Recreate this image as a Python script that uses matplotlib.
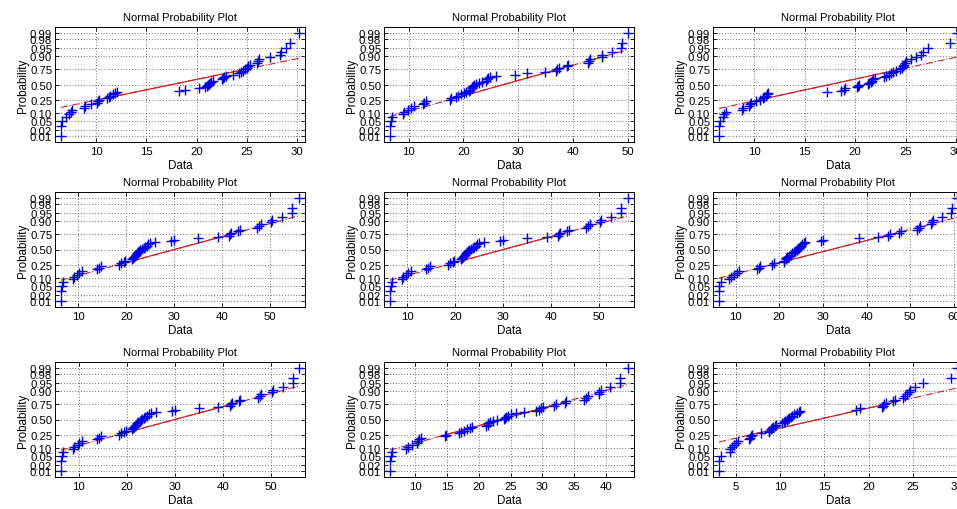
import numpy as np
import matplotlib
matplotlib.use("Agg")
import matplotlib.pyplot as plt
from statistics import NormalDist

plt.rcParams['font.family'] = ['Liberation Sans', 'DejaVu Sans']

# ---- data (sorted samples, n = 50 each) ----
data_r1c1 = [6.5, 6.5, 6.6, 7.0, 7.3, 7.5, 7.6, 8.8, 8.9, 9.5,
             10.1, 10.2, 10.3, 11.1, 11.3, 11.4, 11.7, 11.9, 12.1, 18.3,
             18.8, 20.2, 20.8, 21.0, 21.1, 21.2, 21.3, 21.4, 21.6, 22.5,
             22.6, 22.7, 22.9, 23.6, 24.2, 24.4, 24.6, 24.8, 25.0, 25.1,
             25.3, 26.0, 26.1, 26.2, 27.3, 28.3, 28.4, 28.9, 29.3, 30.2]
data_r1c2 = [6.6, 6.7, 6.8, 7.0, 8.9, 9.2, 9.9, 10.4, 11.0, 12.7,
             12.9, 13.1, 17.6, 17.8, 18.7, 19.0, 19.5, 20.1, 20.5, 21.0,
             21.3, 21.5, 21.6, 21.8, 22.0, 22.4, 22.9, 23.5, 24.1, 24.4,
             24.6, 24.9, 25.9, 29.5, 31.6, 35.0, 37.0, 37.2, 37.4, 38.9,
             39.1, 42.7, 43.0, 43.2, 45.3, 45.4, 47.2, 48.8, 49.0, 50.1]
data_r1c3 = [6.5, 6.5, 6.6, 6.9, 7.0, 7.2, 8.8, 8.9, 9.5, 9.6,
             9.7, 10.2, 10.6, 10.9, 11.0, 11.2, 11.3, 11.4, 17.2, 18.6,
             18.9, 19.0, 20.2, 20.3, 20.4, 21.3, 21.4, 21.6, 21.7, 21.8,
             22.0, 22.9, 23.1, 23.4, 23.6, 23.8, 24.0, 24.4, 24.6, 24.7,
             24.8, 24.9, 25.0, 25.5, 26.0, 26.5, 26.7, 27.2, 29.4, 30.1]
data_r2c1 = [6.35, 6.35, 6.5, 6.7, 8.8, 9.1, 9.8, 10.1, 10.8, 13.9,
             14.3, 14.6, 18.4, 18.8, 19.4, 19.8, 21.2, 21.3, 21.5, 21.7,
             22.0, 22.2, 22.4, 22.7, 22.9, 23.2, 23.6, 23.9, 24.3, 24.6,
             25.0, 26.0, 29.4, 30.0, 35.0, 39.0, 41.4, 41.6, 41.9, 43.3,
             43.6, 47.3, 47.6, 48.0, 50.1, 50.3, 52.4, 54.5, 54.6, 56.0]
data_r2c2 = [6.35, 6.35, 6.5, 6.7, 8.8, 9.1, 9.8, 10.1, 10.8, 13.9,
             14.3, 14.6, 18.4, 18.8, 19.4, 19.8, 21.2, 21.3, 21.5, 21.7,
             22.0, 22.2, 22.4, 22.7, 22.9, 23.2, 23.6, 23.9, 24.3, 24.6,
             25.0, 26.0, 29.4, 30.0, 35.0, 39.0, 41.4, 41.6, 41.9, 43.3,
             43.6, 47.3, 47.6, 48.0, 50.1, 50.3, 52.4, 54.5, 54.6, 56.0]
data_r2c3 = [6.2, 6.2, 6.3, 6.6, 8.5, 8.9, 9.6, 10.4, 10.8, 15.0,
             15.3, 15.7, 18.4, 18.8, 21.1, 21.2, 21.5, 21.6, 21.8, 22.2,
             22.6, 23.0, 23.4, 23.7, 24.0, 24.3, 24.5, 24.7, 25.0, 25.3,
             25.6, 26.0, 29.6, 30.0, 38.3, 42.5, 44.9, 45.4, 47.4, 47.8,
             51.6, 52.0, 52.3, 54.8, 55.0, 55.2, 57.3, 59.4, 59.6, 60.7]
data_r3c1 = [6.35, 6.35, 6.5, 6.7, 8.8, 9.1, 9.8, 10.1, 10.8, 13.9,
             14.3, 14.6, 18.4, 18.8, 19.4, 19.8, 21.2, 21.3, 21.5, 21.7,
             22.0, 22.2, 22.4, 22.7, 22.9, 23.2, 23.6, 23.9, 24.3, 24.6,
             25.0, 26.0, 29.4, 30.0, 35.0, 39.0, 41.4, 41.6, 41.9, 43.3,
             43.6, 47.3, 47.6, 48.0, 50.1, 50.3, 52.4, 54.5, 54.6, 55.8]
data_r3c2 = [6.0, 6.0, 6.2, 6.4, 8.6, 8.8, 9.4, 10.2, 10.4, 10.6,
             10.9, 14.7, 14.9, 16.9, 17.2, 17.7, 18.2, 18.6, 19.0, 21.2,
             21.4, 21.5, 21.7, 22.2, 22.8, 24.0, 24.1, 24.3, 24.6, 25.0,
             25.9, 27.1, 29.0, 29.5, 29.8, 30.1, 31.9, 32.1, 33.6, 33.7,
             36.6, 36.9, 37.2, 38.9, 39.0, 39.2, 40.7, 42.2, 42.3, 43.5]
data_r3c3 = [3.1, 3.1, 3.3, 4.35, 4.4, 4.6, 4.8, 5.0, 5.2, 6.5,
             6.6, 6.7, 6.8, 7.8, 8.7, 8.8, 9.0, 9.1, 9.2, 9.4,
             9.6, 10.2, 10.4, 10.6, 10.8, 10.9, 11.0, 11.2, 11.4, 11.6,
             11.9, 12.1, 12.3, 18.6, 19.0, 21.5, 21.6, 21.8, 22.0, 22.8,
             23.0, 23.9, 24.1, 24.4, 24.6, 24.7, 25.3, 26.2, 29.3, 30.0]

panels = [data_r1c1, data_r1c2, data_r1c3,
          data_r2c1, data_r2c2, data_r2c3,
          data_r3c1, data_r3c2, data_r3c3]

xticks_r1c1 = [10, 15, 20, 25, 30]
xticks_r1c2 = [10, 20, 30, 40, 50]
xticks_r1c3 = [10, 15, 20, 25, 30]
xticks_r2c1 = [10, 20, 30, 40, 50]
xticks_r2c2 = [10, 20, 30, 40, 50]
xticks_r2c3 = [10, 20, 30, 40, 50, 60]
xticks_r3c1 = [10, 20, 30, 40, 50]
xticks_r3c2 = [10, 15, 20, 25, 30, 35, 40]
xticks_r3c3 = [5, 10, 15, 20, 25, 30]
xticks_all = [xticks_r1c1, xticks_r1c2, xticks_r1c3,
              xticks_r2c1, xticks_r2c2, xticks_r2c3,
              xticks_r3c1, xticks_r3c2, xticks_r3c3]

prob_ticks = [0.01, 0.02, 0.05, 0.10, 0.25, 0.50, 0.75, 0.90, 0.95, 0.98, 0.99]
prob_labels = ['0.01', '0.02', '0.05', '0.10', '0.25', '0.50', '0.75',
               '0.90', '0.95', '0.98', '0.99']

nd = NormalDist()

W, H = 957, 510
fig = plt.figure(figsize=(W / 100, H / 100), dpi=100, facecolor='white')

col_left = [55, 384, 713]
row_top = [28, 193, 363]
ax_w, ax_h = 250, 115

fs = 8.2
red = (0.82, 0.12, 0.12)
for k, x in enumerate(panels):
    r, c = divmod(k, 3)
    left = col_left[c] / W
    bottom = 1 - (row_top[r] + ax_h) / H
    ax = fig.add_axes([left, bottom, ax_w / W, ax_h / H])

    x = np.sort(np.asarray(x, dtype=float))
    n = len(x)
    pos = (np.arange(1, n + 1) - 0.5) / n
    y = np.array([nd.inv_cdf(p) for p in pos])

    # reference line through quartiles (MATLAB normplot convention)
    q1x, q3x = np.percentile(x, [25, 75], method='hazen')
    q1y, q3y = nd.inv_cdf(0.25), nd.inv_cdf(0.75)
    slope = (q3y - q1y) / (q3x - q1x)
    cx, cy = (q1x + q3x) / 2, (q1y + q3y) / 2
    mx = np.array([x.min(), x.max()])
    my = cy + slope * (mx - cx)

    ax.plot(mx, my, color=red, lw=0.8, linestyle='-.', zorder=2)
    ax.plot([q1x, q3x], [q1y, q3y], color=red, lw=0.8, zorder=2)
    ax.plot(x, y, linestyle='none', marker='+', color='#0000ee',
            markersize=6.5, markeredgewidth=1.0, zorder=3)

    rng = x.max() - x.min()
    ax.set_xlim(x.min() - 0.025 * rng, x.max() + 0.025 * rng)
    ylim = nd.inv_cdf(0.25 / n)
    ax.set_ylim(ylim, -ylim)

    ax.set_yticks([nd.inv_cdf(p) for p in prob_ticks])
    ax.set_yticklabels(prob_labels)
    ax.set_xticks(xticks_all[k])
    ax.set_xticklabels([str(t) for t in xticks_all[k]])

    ax.grid(True, color='#444444', linestyle=(0, (1, 2.4)), linewidth=0.6)
    ax.set_axisbelow(True)
    ax.tick_params(direction='in', length=3, width=0.6, labelsize=fs,
                   top=True, right=True, pad=3, colors='black')
    ax.tick_params(axis='y', pad=2)
    for s in ax.spines.values():
        s.set_linewidth(0.7)
        s.set_color('black')

    ax.set_title('Normal Probability Plot', fontsize=8.0, pad=5)
    ax.set_xlabel('Data', fontsize=8.4, labelpad=2)
    ax.set_ylabel('Probability', fontsize=8.4, labelpad=1)

fig.savefig('out.png', dpi=100, facecolor='white')
